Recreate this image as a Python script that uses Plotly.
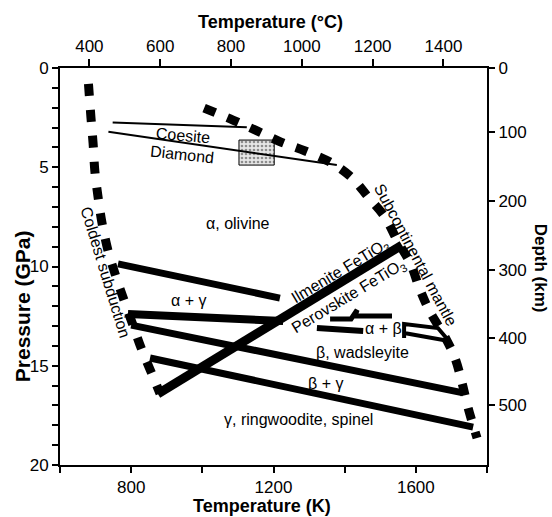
import plotly.graph_objects as go

# ---- data: temperature (K) and pressure (GPa) ----
coldest_T = [680, 687, 693, 698, 707, 718, 735, 757, 780, 805, 830, 858, 881]
coldest_P = [0.8, 2.5, 3.8, 5.2, 6.5, 7.8, 9.2, 10.5, 11.7, 12.95, 14.2, 15.4, 16.4]

subcont_T = [1005, 1086, 1154, 1221, 1289, 1364, 1421, 1466, 1513, 1550, 1584,
             1612, 1640, 1682, 1710, 1730, 1747, 1772]
subcont_P = [2.02, 2.62, 3.17, 3.73, 4.18, 4.79, 5.54, 6.50, 7.51, 8.77, 9.82,
             11.18, 12.29, 13.55, 14.61, 15.87, 17.13, 18.64]

coesite_T = [748, 1125]
coesite_P = [2.74, 2.99]
diamond_T = [736, 1378]
diamond_P = [3.21, 4.89]
box_T = [1103, 1202, 1202, 1103, 1103]
box_P = [3.63, 3.63, 4.89, 4.89, 3.63]

a_ag_T = [763, 1218]      # alpha / alpha+gamma
a_ag_P = [9.87, 11.59]
ag_lo_T = [791, 1227]     # alpha+gamma lower boundary
ag_lo_P = [12.39, 12.75]
b_bg_T = [800, 1733]      # beta / beta+gamma
b_bg_P = [12.95, 16.37]
bg_g_T = [853, 1761]      # beta+gamma / gamma
bg_g_P = [14.61, 18.09]
fetio3_T = [875, 1561]    # ilmenite / perovskite FeTiO3
fetio3_P = [16.42, 8.92]

ab_up_T = [1359, 1418, 1435, 1429, 1533]
ab_up_P = [12.64, 12.64, 12.19, 12.49, 12.49]
ab_lo_T = [1322, 1452]
ab_lo_P = [13.10, 13.25]
ab_end_T = [1567, 1567, 1662, 1693, 1567]
ab_end_P = [13.60, 12.90, 13.10, 13.75, 13.35]

K_ticks = [600, 800, 1000, 1200, 1400, 1600, 1800]
K_text = ["", "800", "", "1200", "", "1600", ""]
C_ticks = [400, 600, 800, 1000, 1200, 1400]
P_ticks = [0, 5, 10, 15, 20]
depth_km = [0, 100, 200, 300, 400, 500]
depth_P = [0, 3.22, 6.70, 10.18, 13.60, 16.98]

labels = [
    ("α, olivine", 1100, 7.81, 0),
    ("α + γ", 960, 11.69, 0),
    ("Ilmenite FeTiO<sub>3</sub>", 1388, 10.23, -31),
    ("Perovskite FeTiO<sub>3</sub>", 1412, 11.49, -31),
    ("α + β", 1508, 13.10, 0),
    ("β, wadsleyite", 1449, 14.31, 0),
    ("β + γ", 1345, 15.87, 0),
    ("γ, ringwoodite, spinel", 1269, 17.73, 0),
    ("Coesite", 946, 3.38, 5),
    ("Diamond", 943, 4.38, 6),
    ("Coldest subduction", 729, 10.28, 73),
    ("Subcontinental mantle", 1598, 9.42, 62),
]

FONT = "Liberation Sans, Arial, Helvetica, sans-serif"

fig = go.Figure()

def line(T, P, width, dash=None, shape="linear"):
    fig.add_trace(go.Scatter(x=T, y=P, mode="lines", showlegend=False, hoverinfo="skip",
                             line=dict(color="black", width=width, dash=dash, shape=shape)))

# stippled box
fig.add_trace(go.Scatter(x=box_T, y=box_P, mode="lines", fill="toself", showlegend=False,
                         hoverinfo="skip", fillcolor="#d8d8d8",
                         fillpattern=dict(shape=".", fgcolor="#333", bgcolor="#e6e6e6",
                                          size=4, solidity=0.35),
                         line=dict(color="black", width=1)))

line(coesite_T, coesite_P, 2)
line(diamond_T, diamond_P, 2)
line(a_ag_T, a_ag_P, 7)
line(ag_lo_T, ag_lo_P, 8)
line(b_bg_T, b_bg_P, 7)
line(bg_g_T, bg_g_P, 7)
line(fetio3_T, fetio3_P, 9)
line(ab_up_T, ab_up_P, 5)
line(ab_lo_T, ab_lo_P, 6)
line(ab_end_T, ab_end_P, 4)
line(coldest_T, coldest_P, 9, dash="12px,14px", shape="spline")
line(subcont_T, subcont_P, 9, dash="12px,13px", shape="spline")

# invisible trace to carry the secondary axes
fig.add_trace(go.Scatter(x=[C_ticks[0]], y=[0], xaxis="x2", yaxis="y2", mode="markers",
                         marker=dict(opacity=0), showlegend=False, hoverinfo="skip"))

for txt, T, P, ang in labels:
    fig.add_annotation(x=T, y=P, xref="x", yref="y", text=txt, showarrow=False,
                       textangle=ang, font=dict(size=16, color="black", family=FONT))

# axis titles
titles = [
    ("<b>Temperature (°C)</b>", 0.492, 1.116, 0, 18),
    ("<b>Temperature (K)</b>", 0.473, -0.103, 0, 18),
    ("<b>Pressure (GPa)</b>", -0.089, 0.40, -90, 21),
    ("<b>Depth (km)</b>", 1.126, 0.495, 90, 17),
]
for txt, x, y, ang, sz in titles:
    fig.add_annotation(x=x, y=y, xref="paper", yref="paper", text=txt, showarrow=False,
                       textangle=ang, xanchor="center", yanchor="middle",
                       font=dict(size=sz, color="black", family=FONT))

axis_common = dict(showgrid=False, zeroline=False, showline=True, linecolor="black",
                   linewidth=2, ticks="outside", tickcolor="black", tickwidth=1.5,
                   tickfont=dict(size=17, color="black", family=FONT))

fig.update_layout(
    width=552, height=517,
    margin=dict(l=60, r=65, t=68, b=52),
    paper_bgcolor="white", plot_bgcolor="white",
    xaxis=dict(range=[600, 1800], tickvals=K_ticks, ticktext=K_text, ticklen=6, **axis_common),
    xaxis2=dict(range=[317, 1523], overlaying="x", side="top", anchor="y",
                tickvals=C_ticks, ticklen=7, **axis_common),
    yaxis=dict(range=[20, 0], tickvals=P_ticks, ticklen=6,
               minor=dict(dtick=1, ticks="outside", ticklen=6, tickcolor="black", tickwidth=1.5),
               **axis_common),
    yaxis2=dict(range=[20, 0], overlaying="y", side="right", anchor="x",
                tickvals=depth_P, ticktext=[str(d) for d in depth_km], ticklen=6, **axis_common),
)

fig.write_html("out.html", config={"displayModeBar": False},
               post_script="document.body.style.margin='0';")
